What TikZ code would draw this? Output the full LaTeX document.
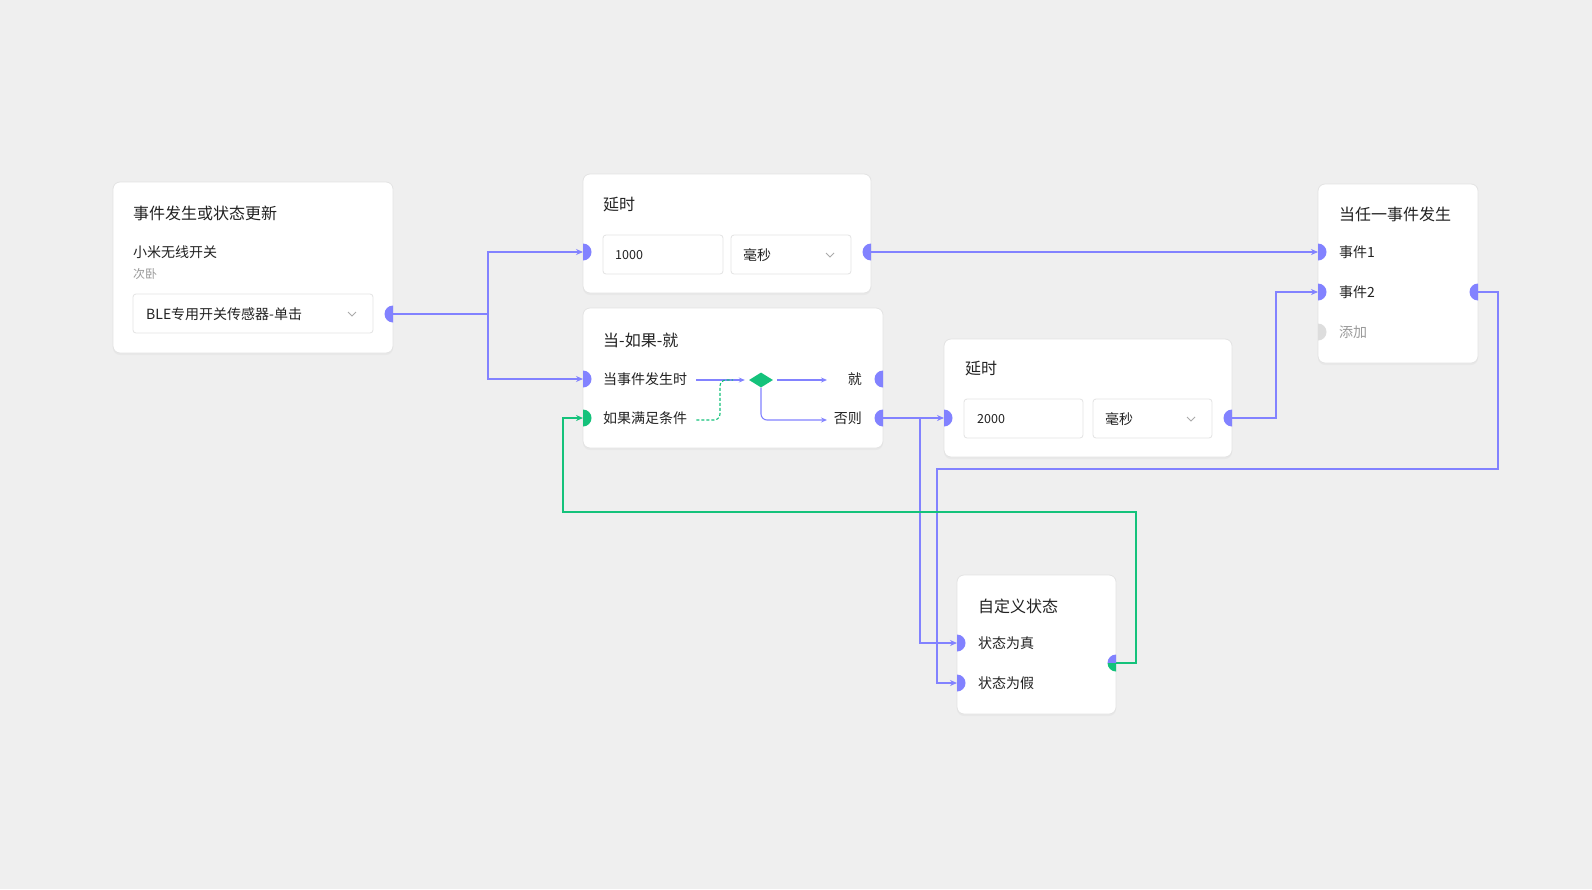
\documentclass[tikz,border=0pt]{standalone}
\usepackage{fontspec}
\setmainfont{Noto Sans CJK SC}
\usetikzlibrary{arrows.meta,shapes.geometric,shadows}

\definecolor{bg}{HTML}{EFEFEF}
\definecolor{wireblue}{HTML}{8282FF}
\definecolor{wiregreen}{HTML}{14C27B}
\definecolor{cardline}{HTML}{E3E3E3}
\definecolor{txt}{HTML}{222222}
\definecolor{subtxt}{HTML}{9A9A9A}
\definecolor{addgray}{HTML}{DDDDDD}
\definecolor{chevgray}{HTML}{AAAAAA}

\tikzset{
  card/.style={draw=cardline, fill=white, rounded corners=7pt, line width=0.8pt,
    inner sep=0pt, outer sep=0pt, anchor=north west,
    drop shadow={shadow xshift=0pt, shadow yshift=-2pt, opacity=0.06}},
  field/.style={draw=cardline, fill=white, rounded corners=3pt, line width=0.8pt},
  title/.style={anchor=west, inner sep=0pt, text=txt, font=\fontsize{16}{16}\selectfont},
  label/.style={anchor=west, inner sep=0pt, text=txt, font=\fontsize{14}{14}\selectfont},
  value/.style={anchor=west, inner sep=0pt, text=txt, font=\fontsize{12.5}{12.5}\selectfont},
  wire/.style={draw=wireblue, line width=1.6pt, -{Stealth[length=7pt,width=6pt]}},
  greenwire/.style={wire, draw=wiregreen},
  flow/.style={draw=wireblue, line width=1.1pt, -{Stealth[length=6pt,width=5pt]}},
  chev/.style={draw=chevgray, line width=0.8pt}
}
\newcommand\inport[2]{\fill[#1] (#2) ++(0,-8.5) arc[start angle=90,end angle=-90,radius=8.5pt] -- cycle;}
\newcommand\outport[2]{\fill[#1] (#2) ++(0,-8.5) arc[start angle=90,end angle=270,radius=8.5pt] -- cycle;}
\newcommand\chevron[1]{\draw[chev] (#1) ++(-4,-2) -- ++(4,4) -- ++(4,-4);}

\begin{document}
\begin{tikzpicture}[x=1pt,y=-1pt]
\useasboundingbox (0,0) rectangle (1592,889);
\fill[bg] (0,0) rectangle (1592,889);

% cards
\node[card, minimum width=280pt, minimum height=171pt] (event) at (113,182) {};
\node[card, minimum width=288pt, minimum height=119pt] (delayA) at (583,174) {};
\node[card, minimum width=300pt, minimum height=140pt] (whenif) at (583,308) {};
\node[card, minimum width=288pt, minimum height=118pt] (delayB) at (944,339) {};
\node[card, minimum width=160pt, minimum height=179pt] (anyev) at (1318,184) {};
\node[card, minimum width=159pt, minimum height=139pt] (custom) at (957,575) {};

% event card
\node[title] (eventtitle) at (133,213) {事件发生或状态更新};
\node[label] (device) at (133,252) {小米无线开关};
\node[anchor=west, inner sep=0pt, text=subtxt, font=\fontsize{12}{12}\selectfont] (room) at (133,274) {次卧};
\draw[field] (133,294) rectangle (373,333);
\node[label] (trigger) at (146,314) {BLE专用开关传感器-单击};
\chevron{352,314}

% first delay
\node[title] (delayAtitle) at (603,205) {延时};
\draw[field] (603,235) rectangle (723,274);
\draw[field] (731,235) rectangle (851,274);
\node[value] (delayAval) at (615,255) {1000};
\node[label] (delayAunit) at (743,255) {毫秒};
\chevron{830,255}

% when-if-then
\node[title] (whenintitle) at (603,340) {当-如果-就};
\node[label] (whenev) at (603,379) {当事件发生时};
\node[label] (ifcond) at (603,418) {如果满足条件};
\node[label, anchor=east] (thentxt) at (862,379) {就};
\node[label, anchor=east] (elsetxt) at (862,418) {否则};
\node[diamond, fill=wiregreen, minimum width=24pt, minimum height=15pt, inner sep=0pt] (gate) at (761,380) {};
\coordinate (thenend) at (827,380);
\coordinate (elseend) at (827,420);
\draw[flow] ([xshift=9pt]whenev.east |- gate) -- ([xshift=-4pt]gate.west);
\draw[flow] ([xshift=4pt]gate.east) -- (thenend);
\draw[flow, rounded corners=6pt] (gate.south) |- (elseend);
\draw[wiregreen, line width=1.1pt, dashed, dash pattern=on 3pt off 2pt, rounded corners=6pt]
  ([xshift=9pt]ifcond.east |- elseend) -| (720,380) -- (733,380);

% second delay
\node[title] (delayBtitle) at (965,369) {延时};
\draw[field] (964,399) rectangle (1083,438);
\draw[field] (1093,399) rectangle (1212,438);
\node[value] (delayBval) at (977,419) {2000};
\node[label] (delayBunit) at (1105,419) {毫秒};
\chevron{1191,419}

% any event
\node[title] (anyevtitle) at (1339,214) {当任一事件发生};
\node[label] (evone) at (1339,252) {事件1};
\node[label] (evtwo) at (1339,292) {事件2};
\node[label, text=subtxt] (addev) at (1339,332) {添加};

% custom state
\node[title] (customtitle) at (978,606) {自定义状态};
\node[label] (statetrue) at (978,643) {状态为真};
\node[label] (statefalse) at (978,683) {状态为假};

% ports
\coordinate (eventout) at (393,314);
\coordinate (delayAin) at (583,252);
\coordinate (delayAout) at (871,252);
\coordinate (whenin) at (583,379);
\coordinate (ifin) at (583,418);
\coordinate (thenout) at (883,379);
\coordinate (elseout) at (883,418);
\coordinate (delayBin) at (944,418);
\coordinate (delayBout) at (1232,418);
\coordinate (evonein) at (1318,252);
\coordinate (evtwoin) at (1318,292);
\coordinate (addin) at (1318,332);
\coordinate (anyevout) at (1478,292);
\coordinate (truein) at (957,643);
\coordinate (falsein) at (957,683);
\coordinate (customout) at (1116,663);

% connectors
\draw[wire] (eventout) -- (488,314) |- (delayAin);
\draw[wire] (eventout) -- (488,314) |- (whenin);
\draw[wire] (delayAout) -- (evonein);
\draw[wire] (elseout) -- (delayBin);
\draw[wire] (elseout) -- (920,418) |- (truein);
\draw[wire] (delayBout) -- (1276,418) |- (evtwoin);
\draw[wire] (anyevout) -- (1498,292) -- (1498,469) -- (937,469) |- (falsein);
\draw[greenwire] (customout) -- (1136,663) -- (1136,512) -- (563,512) |- (ifin);

\outport{wireblue}{eventout}
\inport{wireblue}{delayAin}
\outport{wireblue}{delayAout}
\inport{wireblue}{whenin}
\inport{wiregreen}{ifin}
\outport{wireblue}{thenout}
\outport{wireblue}{elseout}
\inport{wireblue}{delayBin}
\outport{wireblue}{delayBout}
\inport{wireblue}{evonein}
\inport{wireblue}{evtwoin}
\inport{addgray}{addin}
\outport{wireblue}{anyevout}
\inport{wireblue}{truein}
\inport{wireblue}{falsein}
\fill[wireblue] (customout) -- ++(0,-8.5) arc[start angle=90,end angle=180,radius=8.5pt] -- cycle;
\fill[wiregreen] (customout) -- ++(-8.5,0) arc[start angle=180,end angle=270,radius=8.5pt] -- cycle;
\end{tikzpicture}
\end{document}
